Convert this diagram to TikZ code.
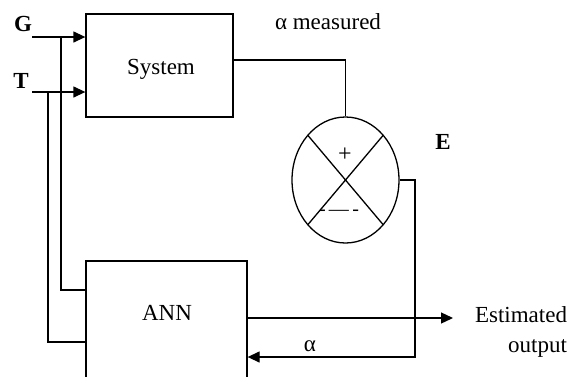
\documentclass[tikz,border=0pt]{standalone}
\usepackage{fontspec}
\setmainfont{Liberation Serif}
\usetikzlibrary{arrows.meta,shapes.geometric}
\begin{document}
\begin{tikzpicture}[x=1pt,y=-1pt,
  line width=1.3pt,
  every node/.style={font=\fontsize{23}{26}\selectfont},
  blk/.style={draw, rectangle, inner sep=0pt},
  bl/.style={font=\fontsize{23}{26}\selectfont\bfseries},
  arr/.style={-{Triangle[length=12pt,width=11pt]}}]
\clip (0,0) rectangle (571,376);
% blocks
\node[blk, minimum width=147pt, minimum height=103pt] (sys) at (159.5,65.5) {};
\node (syslabel) at (161,69) {System};
\node[blk, minimum width=161pt, minimum height=140pt] (ann) at (166.5,331) {};
\node (annlabel) at (167,313) {ANN};
\node[draw, ellipse, inner sep=0pt, minimum width=107pt, minimum height=126pt] (sum) at (345.5,180) {};
\draw ([shift={(-37.5,-44.5)}]sum.center) -- ([shift={(37.5,44.5)}]sum.center);
\draw ([shift={(37.5,-44.5)}]sum.center) -- ([shift={(-37.5,44.5)}]sum.center);
\node[font=\fontsize{24}{26}\selectfont] (plus) at (345,155) {+};
\node[font=\fontsize{20}{22}\selectfont] (minus) at (339,213) {-\,—\,-};
% inputs
\node[bl] (glabel) at (23,24) {G};
\node[bl] (tlabel) at (21,81) {T};
\coordinate (g) at (32,37);
\coordinate (t) at (32,92);
\draw[arr] (g) -- (g -| sys.west);
\draw[arr] (t) -- (t -| sys.west);
\coordinate (gj) at (61,37);
\coordinate (ga) at (86,290);
\draw (gj) |- (ga);
\coordinate (tj) at (48,92);
\coordinate (ta) at (86,342);
\draw (tj) |- (ta);
% measured
\coordinate (se) at (233,60);
\draw (se) -| (sum.north);
\node (meas) at (328,22) {α measured};
\node[bl] (elabel) at (443,142) {E};
% feedback
\coordinate (fb) at (415,357);
\draw[arr] (sum.east) -| (fb) -- (fb -| ann.east);
\node (alabel) at (310,346) {α};
% output
\coordinate (oa) at (247,318);
\coordinate (out) at (453,318);
\draw[arr] (oa) -- (out);
\node[align=right, font=\fontsize{23}{30}\selectfont] (est) at (521,332) {Estimated\\output};
\end{tikzpicture}
\end{document}
